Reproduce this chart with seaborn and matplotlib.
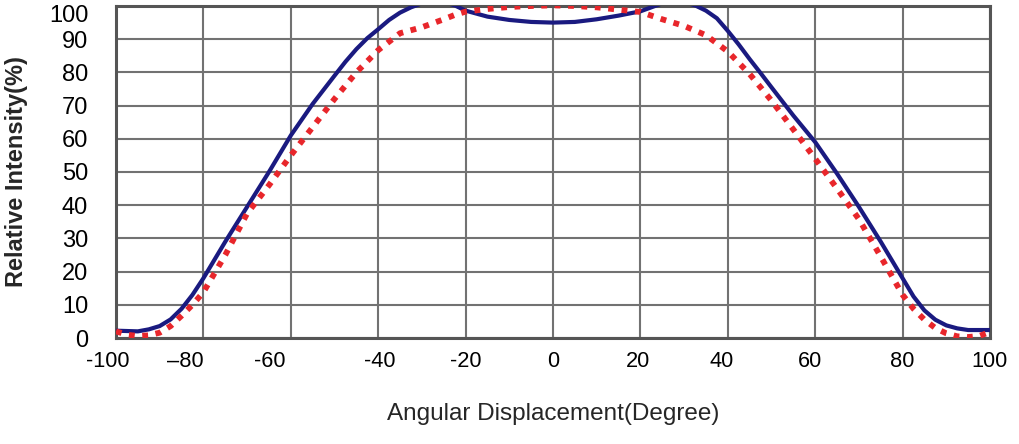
import matplotlib
matplotlib.use("Agg")
import matplotlib.pyplot as plt
import matplotlib.transforms as mtransforms
import seaborn as sns
import pandas as pd

# ---- data ----
blue_deg = [-100, -95, -92.5, -90, -87.5, -85, -82.5, -80, -75, -70, -65, -60, -55, -50, -47.5, -45,
            -42.5, -40, -37.5, -35, -32.5, -30, -27.5, -25, -22.5, -20, -15, -10, -5, 0, 5, 10, 15, 20,
            22.5, 25, 27.5, 30, 32.5, 35, 37.5, 40, 42.5, 45, 47.5, 50, 55, 60, 65, 70, 75, 80,
            82.5, 85, 87.5, 90, 92.5, 95, 100]
blue_val = [2.2, 2.0, 2.6, 3.6, 5.6, 8.8, 13, 18, 29, 39.5, 50, 61, 70.5, 79, 83.2, 87,
            90.3, 93, 95.8, 98, 99.6, 100.8, 101.3, 101.2, 100.2, 98.6, 96.8, 95.8, 95.2, 95, 95.2, 96, 97.1, 98.4,
            99.6, 100.8, 101.3, 101.2, 100.2, 98.6, 96.3, 92.5, 88.4, 84, 79.8, 75.5, 67, 59, 49.5, 39.5, 29, 18,
            12.5, 8.3, 5.5, 3.8, 2.9, 2.4, 2.4]

red_deg = [-100, -97.5, -95, -92.5, -90, -87.5, -85, -82.5, -80, -75, -70, -65, -60, -55, -50,
           -45, -40, -35, -30, -25, -22.5, -20, -15, -10, -5, 0, 5, 10, 15, 20, 25, 30, 35, 40,
           45, 50, 55, 60, 65, 70, 75, 80, 82.5, 85, 87.5, 90, 92.5, 95, 97.5, 100]
red_val = [2.0, 1.0, 0.6, 0.8, 1.6, 3.6, 6.7, 10, 13.8, 25, 37.5, 46, 55, 63.5, 72,
           80, 86.7, 91.8, 93.6, 96, 97.3, 98.3, 99.1, 99.7, 100, 100.2, 100, 99.6, 98.9, 98.2, 96, 94, 91.2, 86.3,
           79.5, 71.5, 62.8, 54, 45, 35.8, 24.5, 13, 8.8, 5.5, 3, 1.4, 0.5, 0.3, 0.6, 1.8]

x_ticks = [-100, -80, -60, -40, -20, 0, 20, 40, 60, 80, 100]
x_tick_labels = ["-100", "\u201380", "-60", "-40", "-20", "0", "20", "40", "60", "80", "100"]
y_ticks = [0, 10, 20, 30, 40, 50, 60, 70, 80, 90, 100]
y_tick_labels = [str(v) for v in y_ticks]

df_blue = pd.DataFrame({"deg": blue_deg, "val": blue_val})
df_red = pd.DataFrame({"deg": red_deg, "val": red_val})

sns.set_theme(style="white")
plt.rcParams["font.family"] = ["Liberation Sans", "DejaVu Sans"]

fig = plt.figure(figsize=(10.2, 4.44), dpi=100)
ax = fig.add_axes([116 / 1020, 1 - 338 / 444, (990 - 116) / 1020, (338 - 6) / 444])

sns.lineplot(data=df_blue, x="deg", y="val", ax=ax, color="#1a1a80", linewidth=3.0,
             sort=False, estimator=None, zorder=3)
sns.lineplot(data=df_red, x="deg", y="val", ax=ax, color="#e8262b", linewidth=4.2,
             sort=False, estimator=None, zorder=4, linestyle=(0, (1.0, 1.3)))

ax.set_xlim(-100, 100)
ax.set_ylim(0, 100)
ax.set_xticks(x_ticks)
ax.set_xticklabels(x_tick_labels, fontsize=15.7)
ax.set_yticks(y_ticks)
ax.set_yticklabels(y_tick_labels, fontsize=17)
ax.tick_params(axis="x", length=0, pad=9, colors="black")
ax.tick_params(axis="y", length=0, pad=20, colors="black")

# small horizontal shifts of x tick labels as in the reference
shifts_px = [-8, -18, -21, 2, 0, 0, -2, -6, -5, 0, 0]
for lab, dx in zip(ax.get_xticklabels(), shifts_px):
    lab.set_transform(lab.get_transform() + mtransforms.ScaledTranslation(dx / 100, 0, fig.dpi_scale_trans))
# top y label sits a little lower, inside the figure
top_lab = ax.get_yticklabels()[-1]
top_lab.set_transform(top_lab.get_transform() + mtransforms.ScaledTranslation(0, -7 / 100, fig.dpi_scale_trans))

ax.grid(True, color="#727272", linewidth=1.5)
for s in ax.spines.values():
    s.set_color("#555555")
    s.set_linewidth(2.2)

ax.set_xlabel("Angular Displacement(Degree)", fontsize=17.5, labelpad=23)
ax.set_ylabel("Relative Intensity(%)", fontsize=17, fontweight="bold", labelpad=15)

fig.savefig("out.png", dpi=100, facecolor="white")
